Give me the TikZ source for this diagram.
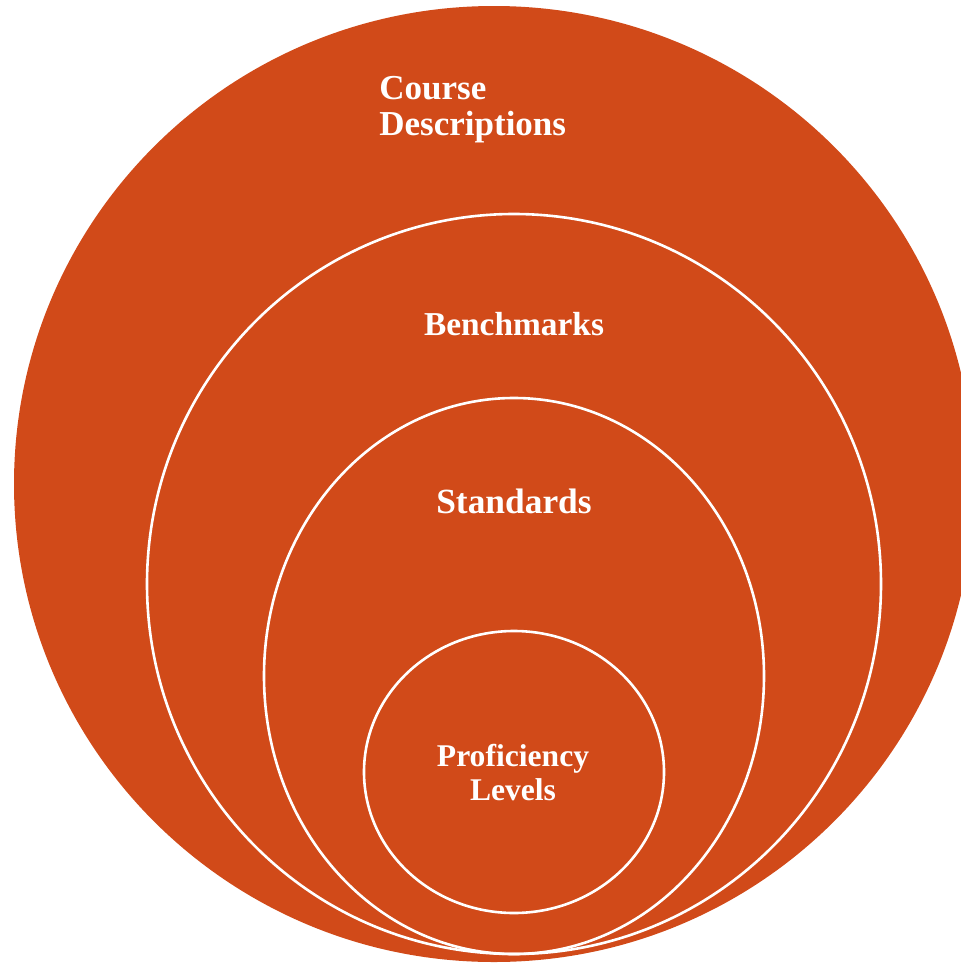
\documentclass[tikz,border=0pt]{standalone}
\usepackage{fontspec}
\setmainfont{Liberation Serif}
\usetikzlibrary{shapes.geometric, positioning}

\definecolor{rustfill}{HTML}{D14A19}

\begin{document}
\begin{tikzpicture}[
    x=0.5pt, y=-0.5pt,
    outerdisc/.style={draw=none, fill=rustfill, ellipse, inner sep=0pt},
    ringnode/.style={draw=white, line width=1.3pt, ellipse, inner sep=0pt},
    ringlabel/.style={text=white, font=\bfseries, align=center, inner sep=0pt}
]
    \useasboundingbox (0,0) rectangle (961,964);
    \clip (0,0) rectangle (961,964);

    \node[outerdisc, minimum width=480pt, minimum height=478pt] (course) at (494, 484) {};
    \node[ringnode, minimum width=367pt, minimum height=370pt] (bench) at (514, 584) {};
    \node[ringnode, minimum width=250pt, minimum height=278pt] (stand) at (514, 676) {};
    \node[ringnode, minimum width=150pt, minimum height=141pt] (prof) at (514, 772) {};

    \node[ringlabel, align=left, anchor=west, font=\fontsize{17.5}{18}\selectfont\bfseries] (course_txt) at (379, 110) {Course\\Descriptions};
    \node[ringlabel, font=\fontsize{16.7}{18}\selectfont\bfseries] (bench_txt) at (514, 324) {Benchmarks};
    \node[ringlabel, font=\fontsize{17.7}{19}\selectfont\bfseries] (stand_txt) at (514, 501) {Standards};
    \node[ringlabel, font=\fontsize{15.8}{17}\selectfont\bfseries] (prof_txt) at (513, 773) {Proficiency\\Levels};
\end{tikzpicture}
\end{document}
